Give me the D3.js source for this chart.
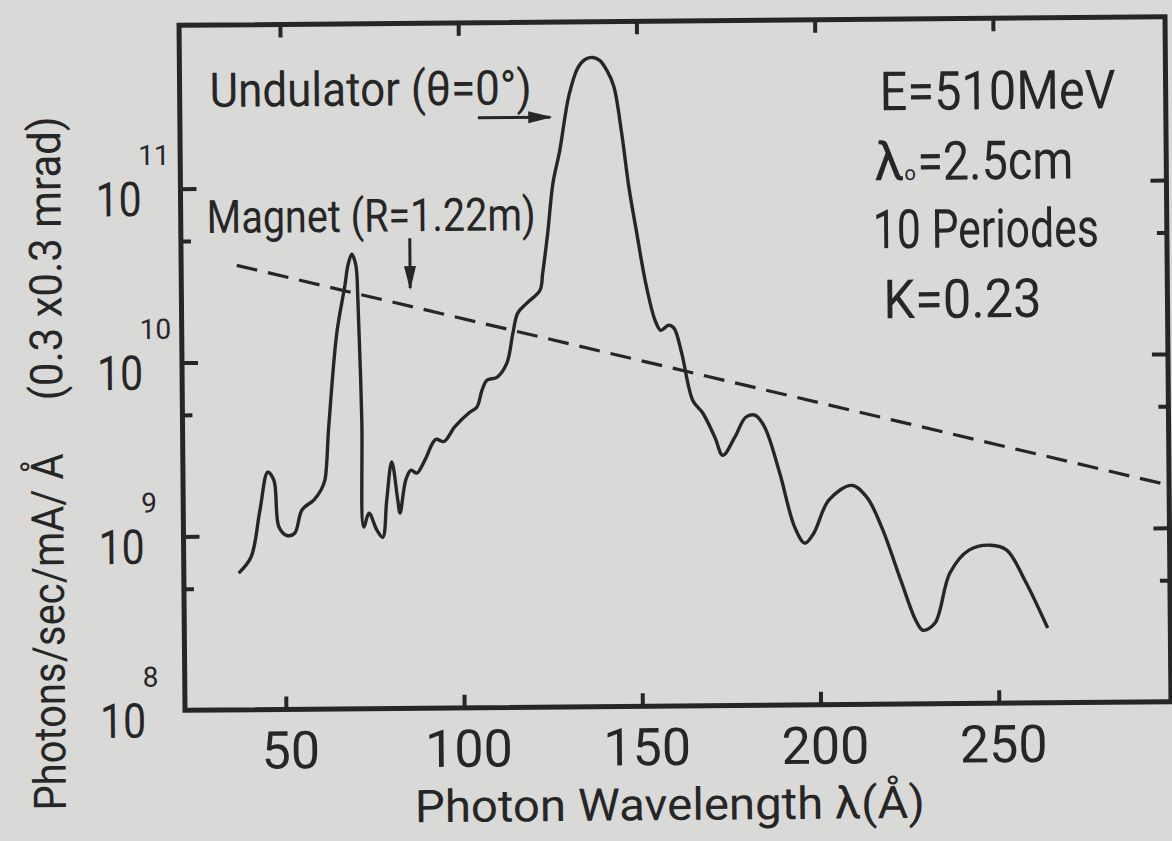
<!DOCTYPE html>
<html>
<head>
<meta charset="utf-8">
<script src="https://cdn.jsdelivr.net/npm/d3@7"></script>
<style>
  body { margin: 0; background: #d9d9d7; }
  svg { display: block; }
  text { font-family: Roboto, "DejaVu Sans", sans-serif; font-weight: 400; fill: #262626; }
</style>
</head>
<body>
<svg width="1172" height="841"></svg>
<script>
var lambda = [37.1, 40.6, 43.2, 45.5, 47.2, 48.5, 50.7, 52.9, 55.0, 58.4,
  60.4, 61.5, 62.7, 65.2, 67.6, 68.5, 69.6, 70.7, 71.2, 72.0,
  72.3, 73.8, 76.0, 77.6, 78.8, 80.3, 81.9, 82.5, 84.2, 85.7,
  87.3, 89.6, 92.7, 95.0, 98.1, 102.3, 104.3, 105.8, 107.2, 110.0,
  112.8, 114.6, 116.0, 118.6, 122.3, 123.1, 124.6, 126.2, 128.2, 130.9,
  133.5, 135.5, 137.7, 139.6, 141.6, 143.5, 145.6, 147.5, 149.6, 152.0,
  154.5, 156.1, 158.3, 159.8, 161.9, 164.9, 167.7, 171.0, 173.2, 176.6,
  179.7, 182.3, 185.0, 189.1, 193.2, 196.0, 198.5, 202.8, 209.3, 213.5,
  217.6, 222.8, 226.9, 228.9, 232.3, 236.6, 242.0, 248.1, 252.6, 257.6, 263.9];
var flux = [6.11e8, 7.55e8, 1.40e9, 2.32e9, 2.08e9, 1.12e9, 1.00e9, 1.03e9, 1.40e9, 1.60e9,
  1.82e9, 2.07e9, 4.18e9, 1.45e10, 2.73e10, 3.56e10, 4.11e10, 3.56e10, 2.23e10, 4.56e9,
  1.11e9, 1.33e9, 1.06e9, 9.66e8, 1.58e9, 2.62e9, 1.58e9, 1.33e9, 2.06e9, 2.34e9,
  2.25e9, 2.67e9, 3.51e9, 3.41e9, 4.15e9, 5.01e9, 5.35e9, 6.70e9, 7.64e9, 7.93e9,
  9.53e9, 1.42e10, 1.85e10, 2.11e10, 2.50e10, 3.13e10, 5.31e10, 1.03e11, 1.59e11, 3.29e11,
  4.75e11, 5.28e11, 5.42e11, 5.21e11, 4.56e11, 3.69e11, 1.98e11, 9.66e10, 5.25e10, 2.70e10,
  1.66e10, 1.45e10, 1.55e10, 1.49e10, 1.07e10, 5.71e9, 4.81e9, 3.50e9, 2.75e9, 3.49e9,
  4.54e9, 4.66e9, 3.97e9, 2.16e9, 1.05e9, 8.51e8, 9.70e8, 1.50e9, 1.82e9, 1.55e9,
  1.04e9, 5.16e8, 3.03e8, 2.65e8, 2.91e8, 5.64e8, 7.62e8, 8.11e8, 7.59e8, 5.08e8, 2.69e8];

// bending magnet reference (dashed)
var magLambda = [37.3, 298.2];
var magFlux = [3.6e10, 1.76e9];

var xTicks = [50, 100, 150, 200, 250];
var yMajor = [1e9, 1e10, 1e11];
var yMinor = [5e8, 5e9, 5e10];
var yLabels = [1e8, 1e9, 1e10, 1e11];

var params = ["E=510MeV", "λ=2.5cm", "10 Periodes", "K=0.23"];

var ink = "#262626";
var plotL = 182, plotR = 1168, plotT = 21, plotB = 706;

var svg = d3.select("svg");
svg.append("rect").attr("width", 1172).attr("height", 841).attr("fill", "#d9d9d7");

// the scan is a little tilted
var g = svg.append("g").attr("transform", "rotate(-0.5,675,363)");

var x = d3.scaleLinear().domain([21.7, 298.3]).range([plotL, plotR]);
var y = d3.scaleLog().domain([1e8, 8.7e11]).range([plotB, plotT]);

var defs = svg.append("defs");
defs.append("marker").attr("id", "head").attr("markerUnits", "userSpaceOnUse")
    .attr("viewBox", "0 0 24 14").attr("refX", 22).attr("refY", 7)
    .attr("markerWidth", 24).attr("markerHeight", 14).attr("orient", "auto")
  .append("path").attr("d", "M0,1 L24,7 L0,13 Z").attr("fill", ink);

// axes, ticks pointing inward
function styleAxis(sel) {
  sel.select(".domain").remove();
  sel.selectAll(".tick line").attr("stroke", ink).attr("stroke-width", 4);
}

g.append("g").attr("transform", "translate(0," + plotB + ")")
    .call(d3.axisBottom(x).tickValues(xTicks).tickSize(-13).tickPadding(22))
    .call(styleAxis)
    .call(function (s) {
      s.selectAll("text").attr("font-size", 52).attr("dx", 4)
        .attr("fill", ink).attr("font-family", null);
    });
g.append("g").attr("transform", "translate(0," + plotT + ")")
    .call(d3.axisTop(x).tickValues(xTicks).tickSize(-13).tickFormat(""))
    .call(styleAxis);

[[d3.axisLeft, plotL], [d3.axisRight, plotR]].forEach(function (a) {
  g.append("g").attr("transform", "translate(" + a[1] + ",0)")
      .call(a[0](y).tickValues(yMajor).tickSize(-16).tickFormat(""))
      .call(styleAxis);
  g.append("g").attr("transform", "translate(" + a[1] + ",0)")
      .call(a[0](y).tickValues(yMinor).tickSize(-10).tickFormat(""))
      .call(styleAxis);
});

g.append("rect")
    .attr("x", plotL).attr("y", plotT)
    .attr("width", plotR - plotL).attr("height", plotB - plotT)
    .attr("fill", "none").attr("stroke", ink).attr("stroke-width", 5);

// y tick labels as powers of ten
var yl = g.append("g").selectAll("g").data(yLabels).enter().append("g")
    .attr("transform", function (d) { return "translate(0," + (y(d) + 27) + ")"; });
yl.append("text").attr("x", 143).attr("text-anchor", "end")
    .attr("font-size", 48).attr("textLength", 46).attr("lengthAdjust", "spacingAndGlyphs")
    .text("10");
yl.append("text").attr("x", 140).attr("y", -51)
    .attr("font-size", 28).text(function (d) { return Math.round(Math.log10(d)); });

// curves
var line = d3.line()
    .x(function (d) { return x(d[0]); })
    .y(function (d) { return y(d[1]); })
    .curve(d3.curveCatmullRom.alpha(0.5));

g.append("path")
    .datum(d3.zip(magLambda, magFlux))
    .attr("d", line)
    .attr("fill", "none").attr("stroke", ink)
    .attr("stroke-width", 3.2).attr("stroke-dasharray", "21,11");

g.append("path")
    .datum(d3.zip(lambda, flux))
    .attr("d", line)
    .attr("fill", "none").attr("stroke", ink)
    .attr("stroke-width", 3.4).attr("stroke-linejoin", "round");

// annotations
g.append("text").attr("x", 212).attr("y", 103).attr("font-size", 48)
    .attr("textLength", 322).attr("lengthAdjust", "spacingAndGlyphs")
    .text("Undulator (θ=0°)");
g.append("line")
    .attr("x1", x(105.3)).attr("x2", x(125.6))
    .attr("y1", y(2.47e11)).attr("y2", y(2.47e11))
    .attr("stroke", ink).attr("stroke-width", 3).attr("marker-end", "url(#head)");

g.append("text").attr("x", 208).attr("y", 229).attr("font-size", 46)
    .attr("textLength", 329).attr("lengthAdjust", "spacingAndGlyphs")
    .text("Magnet (R=1.22m)");
g.append("line")
    .attr("x1", x(85.9)).attr("x2", x(85.9))
    .attr("y1", y(5.05e10)).attr("y2", y(2.61e10))
    .attr("stroke", ink).attr("stroke-width", 3).attr("marker-end", "url(#head)");

var px = [882, 876, 874, 884], py = [112, 182, 250, 320], pw = [236, 199, 226, 158];
params.forEach(function (p, i) {
  var t = g.append("text").attr("x", px[i]).attr("y", py[i]).attr("font-size", 54);
  if (i === 1) {
    // lambda with a small "o" subscript, kept as separate pieces
    t.text("λ");
    g.append("text").attr("x", px[i] + 30).attr("y", py[i])
        .attr("font-size", 20).text("o");
    g.append("text").attr("x", px[i] + 43).attr("y", py[i]).attr("font-size", 54)
        .attr("textLength", pw[i] - 43).attr("lengthAdjust", "spacingAndGlyphs")
        .text(p.slice(1));
  } else {
    t.attr("textLength", pw[i]).attr("lengthAdjust", "spacingAndGlyphs").text(p);
  }
});

// axis titles
g.append("text").attr("x", 411).attr("y", 820).attr("font-size", 45)
    .attr("textLength", 510).attr("lengthAdjust", "spacingAndGlyphs")
    .text("Photon Wavelength λ(Å)");

g.append("text").attr("transform", "translate(62,805) rotate(-90)")
    .attr("font-size", 45)
    .attr("textLength", 357).attr("lengthAdjust", "spacingAndGlyphs")
    .text("Photons/sec/mA/ Å");
g.append("text").attr("transform", "translate(62,395) rotate(-90)")
    .attr("font-size", 45)
    .attr("textLength", 284).attr("lengthAdjust", "spacingAndGlyphs")
    .text("(0.3 x0.3 mrad)");
</script>
</body>
</html>
